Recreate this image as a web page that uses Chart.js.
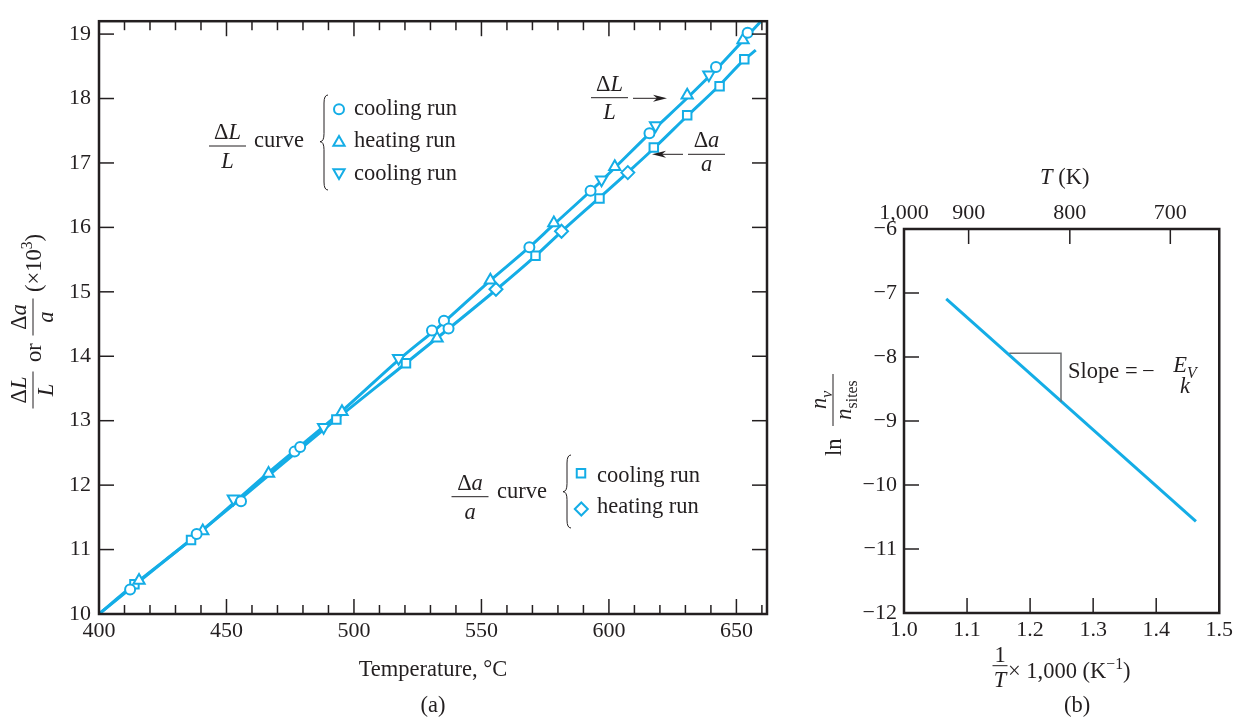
<!DOCTYPE html>
<html>
<head>
<meta charset="utf-8">
<script src="https://cdn.jsdelivr.net/npm/chart.js@4.4.1/dist/chart.umd.min.js"></script>
<style>
html, body { margin: 0; padding: 0; background: #fff; }
#boxA { position: absolute; left: 0; top: 0; }
#boxB { position: absolute; left: 800px; top: 0; }
</style>
</head>
<body>
<canvas id="boxA" width="800" height="719"></canvas>
<canvas id="boxB" width="437" height="719"></canvas>
<script>
const SERIF = '"Liberation Serif", "Times New Roman", serif'
const INK = '#231f20'
const CYAN = '#14ade6'
const GREY = '#6d6e70'

// (a) ΔL/L and Δa/a (x10^3) against temperature
const tempMin = 400, tempMax = 662
const strainMin = 10, strainMax = 19.2

// fitted curves
const curveLT = [400, 412, 440, 466, 495, 518, 533, 553, 569, 578, 597, 616, 631, 642, 654, 662]
const curveLV = [10.0, 10.40, 11.28, 12.18, 13.14, 13.96, 14.45, 15.16, 15.70, 16.03, 16.72, 17.46, 18.02, 18.45, 18.96, 19.30]
const curveAT = [400, 414, 436, 465, 493, 520, 556, 571, 581, 596, 607, 618, 631, 643, 653, 657.6]
const curveAV = [10.0, 10.45, 11.15, 12.10, 13.02, 13.88, 15.04, 15.55, 15.92, 16.45, 16.84, 17.24, 17.74, 18.19, 18.60, 18.75]

// measured points
const coolCircT = [412.2, 438.3, 455.7, 476.7, 478.9, 530.6, 535.3, 537.1, 568.8, 592.8, 615.9, 642.0, 654.4]
const coolCircV = [10.38, 11.24, 11.75, 12.52, 12.59, 14.40, 14.55, 14.43, 15.69, 16.57, 17.46, 18.49, 19.02]
const heatTriT = [415.7, 440.7, 466.5, 495.3, 532.6, 553.5, 578.4, 602.3, 630.7, 652.6]
const heatTriV = [10.52, 11.29, 12.18, 13.14, 14.28, 15.18, 16.07, 16.94, 18.05, 18.91]
const coolTriT = [452.7, 488.1, 517.5, 597.1, 618.3, 639.2]
const coolTriV = [11.79, 12.90, 13.97, 16.74, 17.58, 18.37]
const coolSqT = [413.9, 436.1, 493.1, 520.4, 571.2, 596.3, 617.6, 630.7, 643.4, 653.1]
const coolSqV = [10.46, 11.15, 13.02, 13.89, 15.56, 16.45, 17.24, 17.74, 18.19, 18.61]
const heatDiaT = [555.7, 581.4, 607.4]
const heatDiaV = [15.04, 15.94, 16.85]

// (b) ln(n_v/n_sites) against 1000/T
const invMin = 1.0, invMax = 1.5
const lnMin = -12, lnMax = -6
const lineInvT = [1.067, 1.463]
const lineLn = [-7.09, -10.57]
const slopeInvT = [1.167, 1.249, 1.249]
const slopeLn = [-7.94, -7.94, -8.70]
const topTickPos = [1.0, 1.1025, 1.263, 1.4224]
const topTickLabels = ['1,000', '900', '800', '700']

const xy = (xs, ys) => xs.map((x, i) => ({ x: x, y: ys[i] }))

function font(size, italic) {
	return (italic ? 'italic ' : '') + size + 'px ' + SERIF
}

// segs: [text, flags] with flags 'i' italic, 'sub', 'sup'
function runWidth(ctx, segs, size) {
	let w = 0
	segs.forEach(s => {
		const f = s[1] || ''
		const sz = /sub|sup/.test(f) ? size * 0.7 : size
		ctx.font = font(sz, f.includes('i'))
		w += ctx.measureText(s[0]).width
	})
	return w
}

function drawRun(ctx, segs, x, y, size) {
	ctx.textAlign = 'left'
	ctx.textBaseline = 'alphabetic'
	segs.forEach(s => {
		const f = s[1] || ''
		const small = /sub|sup/.test(f)
		const sz = small ? size * 0.7 : size
		ctx.font = font(sz, f.includes('i'))
		const dy = f.includes('sub') ? size * 0.25 : f.includes('sup') ? -size * 0.42 : 0
		ctx.fillText(s[0], x, y + dy)
		x += ctx.measureText(s[0]).width
	})
	return x
}

function frac(ctx, num, den, cx, barY, barW, size, numGap, denGap, noBar) {
	if (!noBar) {
		ctx.lineWidth = 1
		ctx.beginPath()
		ctx.moveTo(cx - barW / 2, barY)
		ctx.lineTo(cx + barW / 2, barY)
		ctx.stroke()
	}
	drawRun(ctx, num, cx - runWidth(ctx, num, size) / 2, barY - numGap, size)
	drawRun(ctx, den, cx - runWidth(ctx, den, size) / 2, barY + denGap, size)
}

function brace(ctx, x, top, bot, tip, w) {
	const m = x + w / 2
	ctx.lineWidth = 1
	ctx.beginPath()
	ctx.moveTo(x + w, top)
	ctx.quadraticCurveTo(m, top, m, top + w)
	ctx.lineTo(m, tip - w)
	ctx.quadraticCurveTo(m, tip, x, tip)
	ctx.quadraticCurveTo(m, tip, m, tip + w)
	ctx.lineTo(m, bot - w)
	ctx.quadraticCurveTo(m, bot, x + w, bot)
	ctx.stroke()
}

function arrow(ctx, x1, x2, y) {
	const dir = x2 > x1 ? 1 : -1
	ctx.lineWidth = 1
	ctx.beginPath()
	ctx.moveTo(x1, y)
	ctx.lineTo(x2 - dir * 8, y)
	ctx.stroke()
	ctx.beginPath()
	ctx.moveTo(x2, y)
	ctx.lineTo(x2 - dir * 14, y - 3.5)
	ctx.lineTo(x2 - dir * 10, y)
	ctx.lineTo(x2 - dir * 14, y + 3.5)
	ctx.closePath()
	ctx.fill()
}

function marker(ctx, style, rot, r, x, y) {
	ctx.save()
	ctx.fillStyle = '#fff'
	ctx.strokeStyle = CYAN
	ctx.lineWidth = 2
	Chart.helpers.drawPoint(ctx, { pointStyle: style, rotation: rot, radius: r, borderWidth: 2 }, x, y)
	ctx.restore()
}

// inward tick marks for a side of the chart area
function inTicks(ctx, scale, side, lenOf) {
	const a = scale.chart.chartArea
	ctx.lineWidth = 1.5
	scale.ticks.forEach(t => {
		const len = lenOf(t.value)
		if (!len) return
		const p = scale.getPixelForValue(t.value)
		ctx.beginPath()
		if (side === 'bottom') { ctx.moveTo(p, a.bottom); ctx.lineTo(p, a.bottom - len) }
		if (side === 'top') { ctx.moveTo(p, a.top); ctx.lineTo(p, a.top + len) }
		if (side === 'left') { ctx.moveTo(a.left, p); ctx.lineTo(a.left + len, p) }
		if (side === 'right') { ctx.moveTo(a.right, p); ctx.lineTo(a.right - len, p) }
		ctx.stroke()
	})
}

function frame(ctx, a) {
	ctx.lineWidth = 2.5
	ctx.strokeRect(a.left, a.top, a.right - a.left, a.bottom - a.top)
}

const tickFont = { family: SERIF, size: 22 }
const S = 22.5

const pts = (data, style, r, rot) => ({
	data: data, showLine: false, order: 0,
	pointStyle: style, pointRotation: rot || 0, pointRadius: r,
	pointBorderWidth: 2, pointBackgroundColor: '#fff', pointBorderColor: CYAN
})
const curve = (data, color, width) => ({
	data: data, showLine: true, order: 1, clip: 0,
	borderColor: color, borderWidth: width, pointRadius: 0,
	cubicInterpolationMode: 'monotone'
})

const decorA = {
	id: 'decorA',
	afterDatasetsDraw(chart) {
		const ctx = chart.ctx
		const a = chart.chartArea
		const x = chart.scales.x, y = chart.scales.y
		ctx.save()
		ctx.strokeStyle = INK
		ctx.fillStyle = INK
		const xLen = v => (Math.round(v) % 50 === 0 ? 15 : 9)
		inTicks(ctx, x, 'bottom', xLen)
		inTicks(ctx, x, 'top', xLen)
		inTicks(ctx, y, 'left', () => 15)
		inTicks(ctx, y, 'right', () => 15)
		frame(ctx, a)

		// axis titles
		ctx.font = font(S)
		ctx.textAlign = 'center'
		ctx.fillText('Temperature, °C', 433, 676)
		ctx.fillText('(a)', 433, 712)

		// rotated y title
		ctx.save()
		ctx.translate(33, 320)
		ctx.rotate(-Math.PI / 2)
		frac(ctx, [['Δ'], ['L', 'i']], [['L', 'i']], -70, 0, 37, S, 7, 20)
		drawRun(ctx, [['or']], -42, 8, S)
		frac(ctx, [['Δ'], ['a', 'i']], [['a', 'i']], 3, 0, 37, S, 7, 20)
		drawRun(ctx, [['(×10'], ['3', 'sup'], [')']], 28, 8, S)
		ctx.restore()

		// upper key
		frac(ctx, [['Δ'], ['L', 'i']], [['L', 'i']], 227.5, 146, 37, S, 7, 22)
		drawRun(ctx, [['curve']], 254, 147, S)
		brace(ctx, 320, 95, 190, 141.7, 8)
		marker(ctx, 'circle', 0, 5, 339, 109.3)
		marker(ctx, 'triangle', 0, 6.5, 339, 142.5)
		marker(ctx, 'triangle', 180, 6.5, 339, 172.5)
		drawRun(ctx, [['cooling run']], 354, 115, S)
		drawRun(ctx, [['heating run']], 354, 147, S)
		drawRun(ctx, [['cooling run']], 354, 179.5, S)

		// lower key
		frac(ctx, [['Δ'], ['a', 'i']], [['a', 'i']], 470, 496.7, 37, S, 7, 22)
		drawRun(ctx, [['curve']], 497, 498, S)
		brace(ctx, 563, 455, 528, 491.7, 8)
		marker(ctx, 'rect', 0, 6, 581, 473.3)
		marker(ctx, 'rectRot', 0, 6.5, 581.3, 509)
		drawRun(ctx, [['cooling run']], 597, 481.7, S)
		drawRun(ctx, [['heating run']], 597, 513.3, S)

		// curve callouts
		frac(ctx, [['Δ'], ['L', 'i']], [['L', 'i']], 609.5, 97.7, 37, S, 7, 21)
		arrow(ctx, 633, 667, 98.3)
		frac(ctx, [['Δ'], ['a', 'i']], [['a', 'i']], 706.5, 154.3, 37, S, 7, 17)
		arrow(ctx, 683, 652, 154.3)
		ctx.restore()
	}
}

new Chart(document.getElementById('boxA'), {
	type: 'scatter',
	data: {
		datasets: [
			curve(xy(curveLT, curveLV), CYAN, 3),
			curve(xy(curveAT, curveAV), CYAN, 3),
			pts(xy(coolCircT, coolCircV), 'circle', 5),
			pts(xy(heatTriT, heatTriV), 'triangle', 6.5),
			pts(xy(coolTriT, coolTriV), 'triangle', 6.5, 180),
			pts(xy(coolSqT, coolSqV), 'rect', 6),
			pts(xy(heatDiaT, heatDiaV), 'rectRot', 6.5),
		],
	},
	options: {
		responsive: false,
		animation: false,
		events: [],
		layout: { padding: { left: 0, right: 33, top: 12, bottom: 0 } },
		plugins: { legend: { display: false }, tooltip: { enabled: false } },
		scales: {
			x: {
				type: 'linear', min: tempMin, max: tempMax,
				grid: { display: false, drawTicks: false },
				border: { display: false },
				ticks: {
					stepSize: 10, includeBounds: false, autoSkip: false, maxRotation: 0,
					padding: 4, color: INK, font: tickFont,
					callback: v => (Math.round(v) % 50 === 0 ? Math.round(v) : ''),
				},
				afterFit: s => { s.height = 105 },
			},
			y: {
				type: 'linear', min: strainMin, max: strainMax,
				grid: { display: false, drawTicks: false },
				border: { display: false },
				ticks: {
					stepSize: 1, includeBounds: false, autoSkip: false,
					padding: 8, color: INK, font: tickFont,
				},
				afterFit: s => { s.width = 99 },
			},
		},
	},
	plugins: [decorA],
})

const decorB = {
	id: 'decorB',
	afterDatasetsDraw(chart) {
		const ctx = chart.ctx
		const a = chart.chartArea
		ctx.save()
		ctx.strokeStyle = INK
		ctx.fillStyle = INK
		const inner = (lo, hi) => v => (v > lo + 1e-6 && v < hi - 1e-6 ? 15 : 0)
		inTicks(ctx, chart.scales.x, 'bottom', inner(invMin, invMax))
		inTicks(ctx, chart.scales.xt, 'top', inner(invMin, invMax))
		inTicks(ctx, chart.scales.y, 'left', inner(lnMin, lnMax))
		frame(ctx, a)

		const ox = 800
		// top title
		drawRun(ctx, [['T', 'i'], [' (K)']], 1040 - ox, 184, S)

		// bottom title
		frac(ctx, [['1']], [['T', 'i']], 1000 - ox, 665.7, 15, S, 4, 21)
		drawRun(ctx, [['×'], [' 1,000 (K'], ['−1', 'sup'], [')']], 1008 - ox, 678, S)
		ctx.font = font(S)
		ctx.textAlign = 'center'
		ctx.fillText('(b)', 1077 - ox, 712)

		// rotated y title
		ctx.save()
		ctx.translate(833 - ox, 410)
		ctx.rotate(-Math.PI / 2)
		drawRun(ctx, [['ln']], -46, 8, S)
		frac(ctx, [['n', 'i'], ['ν', 'i sub']], [['n', 'i'], ['sites', 'sub']], 10, 0, 52, S, 7, 18)
		ctx.restore()

		// slope note
		drawRun(ctx, [['Slope =']], 1068 - ox, 378, S)
		drawRun(ctx, [['−']], 1142 - ox, 378, S)
		frac(ctx, [['E', 'i'], ['V', 'i sub']], [['k', 'i']], 1185 - ox, 376, 38, S, 4, 17, true)
		ctx.restore()
	}
}

new Chart(document.getElementById('boxB'), {
	type: 'scatter',
	data: {
		datasets: [
			curve(xy(slopeInvT, slopeLn), GREY, 1.5),
			curve(xy(lineInvT, lineLn), CYAN, 3),
		],
	},
	options: {
		responsive: false,
		animation: false,
		events: [],
		layout: { padding: { left: 0, right: 11, top: 0, bottom: 0 } },
		plugins: { legend: { display: false }, tooltip: { enabled: false } },
		scales: {
			x: {
				type: 'linear', position: 'bottom', min: invMin, max: invMax,
				grid: { display: false, drawTicks: false },
				border: { display: false },
				ticks: {
					stepSize: 0.1, autoSkip: false, maxRotation: 0,
					padding: 4, color: INK, font: tickFont,
					callback: v => v.toFixed(1),
				},
				afterFit: s => { s.height = 106 },
			},
			xt: {
				type: 'linear', position: 'top', min: invMin, max: invMax,
				grid: { display: false, drawTicks: false },
				border: { display: false },
				afterBuildTicks: s => { s.ticks = topTickPos.map(v => ({ value: v })) },
				ticks: {
					autoSkip: false, maxRotation: 0,
					padding: 3, color: INK, font: tickFont,
					callback: (v, i) => topTickLabels[i],
				},
				afterFit: s => { s.height = 229 },
			},
			y: {
				type: 'linear', min: lnMin, max: lnMax,
				grid: { display: false, drawTicks: false },
				border: { display: false },
				ticks: {
					stepSize: 1, autoSkip: false,
					padding: 7, color: INK, font: tickFont,
					callback: v => (v < 0 ? '−' + Math.abs(v) : String(v)),
				},
				afterFit: s => { s.width = 104 },
			},
		},
	},
	plugins: [decorB],
})
</script>
</body>
</html>
